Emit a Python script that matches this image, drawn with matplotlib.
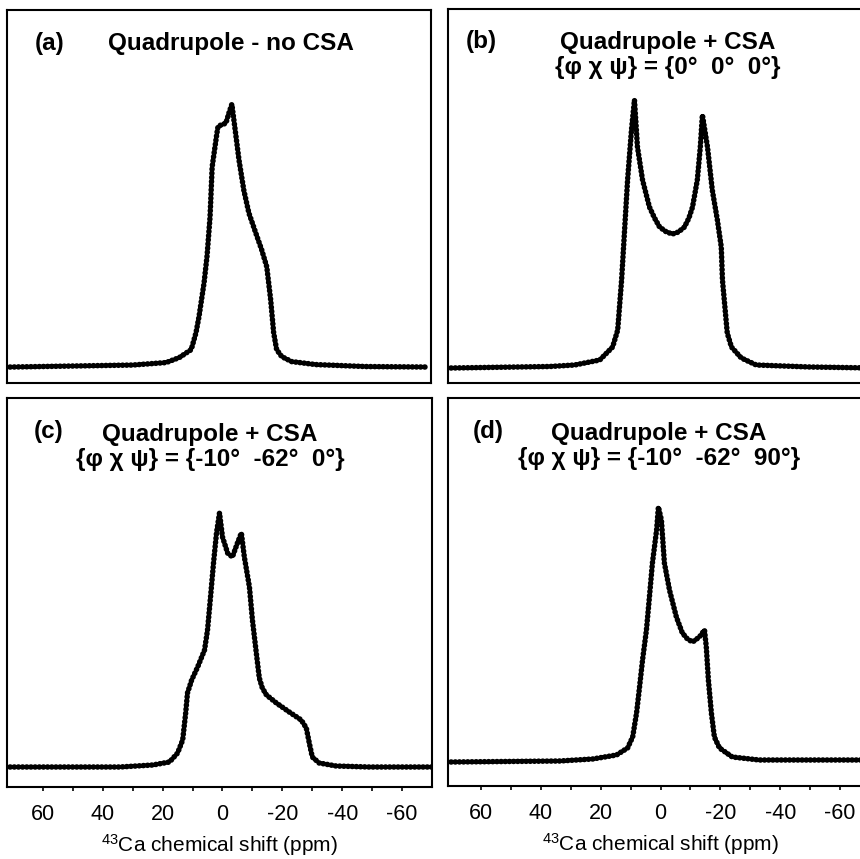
import matplotlib
matplotlib.use("Agg")
import matplotlib.pyplot as plt

plt.rcParams['font.family'] = ['Liberation Sans', 'DejaVu Sans']
plt.rcParams['mathtext.fontset'] = 'custom'
plt.rcParams['mathtext.rm'] = 'Liberation Sans'
plt.rcParams['mathtext.default'] = 'regular'
plt.rcParams['axes.unicode_minus'] = False

# 43Ca chemical shift (ppm) and intensity (a.u.)
shift_a = [71, 30, 18.7, 14.3, 10.3, 8.7, 7.7, 6, 5, 4, 3.3, 1.7, 1.3, -1.3, -2.3, -3.3,
           -4.3, -5.7, -7.3, -9, -11.3, -13.3, -15, -16.3, -17.3, -18.3, -20, -23.3, -31.3, -48, -69]
intens_a = [0, 2, 4.5, 9.5, 17.5, 34.5, 50.5, 84.5, 111.5, 150.5, 200.5, 234.5, 241.5, 244.5, 254.5, 263.5,
            240.5, 207.5, 177.5, 154.5, 134.5, 117.5, 100.5, 67.5, 34.5, 17.5, 10.5, 5.5, 2.5, 0.5, 0]

shift_b = [70, 37, 28.7, 20.3, 16, 14.3, 13, 12, 11, 9.7, 8.7, 7.7, 6, 3.7, 2, 0.3, -2, -4, -6, -8,
           -9.5, -10.7, -12.3, -13.3, -14, -15.7, -17.3, -19, -20.3, -20.7, -21.7, -22.3, -23.7,
           -27, -32, -50, -71]
intens_b = [0, 1.5, 3, 8, 21, 38, 88, 138, 188, 238, 268, 221, 188, 161, 150, 141, 136, 134, 136, 141,
            150, 161, 188, 221, 253, 221, 178, 148, 121, 88, 55, 35, 21,
            10, 3, 1, 0]

shift_c = [71, 34.3, 23.3, 17.7, 15, 13.3, 12.3, 11.7, 10.3, 8.3, 6, 5, 4, 3, 2, 1, 0, -1.7, -3.3,
           -5, -6.3, -7.3, -9, -10, -11.3, -12.3, -13.3, -14.7, -18, -22.3, -26.3, -28, -29, -30, -32.3,
           -38, -49, -70]
intens_c = [0, 0, 2, 5, 14, 27, 54, 74, 87, 100, 117, 137, 170, 204, 234, 254, 230, 214, 210,
            224, 234, 210, 180, 147, 114, 89, 79, 72, 64, 55, 47, 39, 24, 10, 4,
            1, 0, 0]

shift_d = [70, 33.7, 22.7, 14.7, 11, 9.3, 8, 7, 6, 4.7, 3.7, 2.7, 1.3, 0.7, -0.3, -1.3, -3, -5.3,
           -7.3, -9, -10.7, -13, -14.7, -15.3, -16, -17, -18, -19.7, -24, -33, -50, -71]
intens_d = [-1, 0, 2, 6, 13, 24, 48, 74, 101, 131, 164, 198, 231, 254, 241, 198, 171, 144,
            128, 122, 119, 124, 131, 114, 81, 48, 24, 13, 4, 1, 1, 1]

labels = ['(a)', '(b)', '(c)', '(d)']
titles = ['Quadrupole - no CSA',
          'Quadrupole + CSA\n{\u03c6 \u03c7 \u03c8} = {0\u00b0  0\u00b0  0\u00b0}',
          'Quadrupole + CSA\n{\u03c6 \u03c7 \u03c8} = {-10\u00b0  -62\u00b0  0\u00b0}',
          'Quadrupole + CSA\n{\u03c6 \u03c7 \u03c8} = {-10\u00b0  -62\u00b0  90\u00b0}']
major_ticks = [60, 40, 20, 0, -20, -40, -60]
minor_ticks = [50, 30, 10, -10, -30, -50]

W, H = 860, 859
fig = plt.figure(figsize=(W / 100, H / 100), dpi=100)

# panel boxes in pixels: left, top, right, bottom
boxes = [(7, 10, 431, 383), (448, 9, 873, 383), (7, 398, 432, 787), (448, 398, 873, 786)]
xlims = [(72, -70), (71, -71), (72, -70), (71, -71)]
ylims = [(-16, 358), (-15, 359), (-20, 369), (-25, 363)]
data = [(shift_a, intens_a), (shift_b, intens_b), (shift_c, intens_c), (shift_d, intens_d)]
label_pos = [(0.066, 0.911), (0.042, 0.912), (0.063, 0.913), (0.059, 0.913)]
title_pos = [(0.527, 0.911), (0.518, 0.877), (0.478, 0.874), (0.496, 0.876)]

for i in range(4):
    l, t, r, b = boxes[i]
    ax = fig.add_axes([l / W, (H - b) / H, (r - l) / W, (b - t) / H])
    x, y = data[i]
    ax.plot(x, y, color='black', lw=4.0, linestyle=(0, (0.05, 0.7)),
            dash_capstyle='round', solid_joinstyle='round')
    ax.set_xlim(*xlims[i])
    ax.set_ylim(*ylims[i])
    ax.set_yticks([])
    for s in ax.spines.values():
        s.set_linewidth(1.5)
    ax.text(label_pos[i][0], label_pos[i][1], labels[i], transform=ax.transAxes,
            fontsize=17.5, fontweight='bold', ha='left', va='center')
    ax.text(title_pos[i][0], title_pos[i][1], titles[i], transform=ax.transAxes,
            fontsize=17.5, fontweight='bold', ha='center', va='center', linespacing=1.08)
    if i < 2:
        ax.set_xticks([])
    else:
        ax.set_xticks(major_ticks)
        ax.set_xticks(minor_ticks, minor=True)
        ax.tick_params(axis='x', which='both', direction='out', length=3, width=1.2,
                       pad=9, labelsize=15.5)
        ax.set_xlabel('$^{43}$Ca chemical shift (ppm)', fontsize=15, labelpad=5)

fig.savefig('out.png', dpi=100)
